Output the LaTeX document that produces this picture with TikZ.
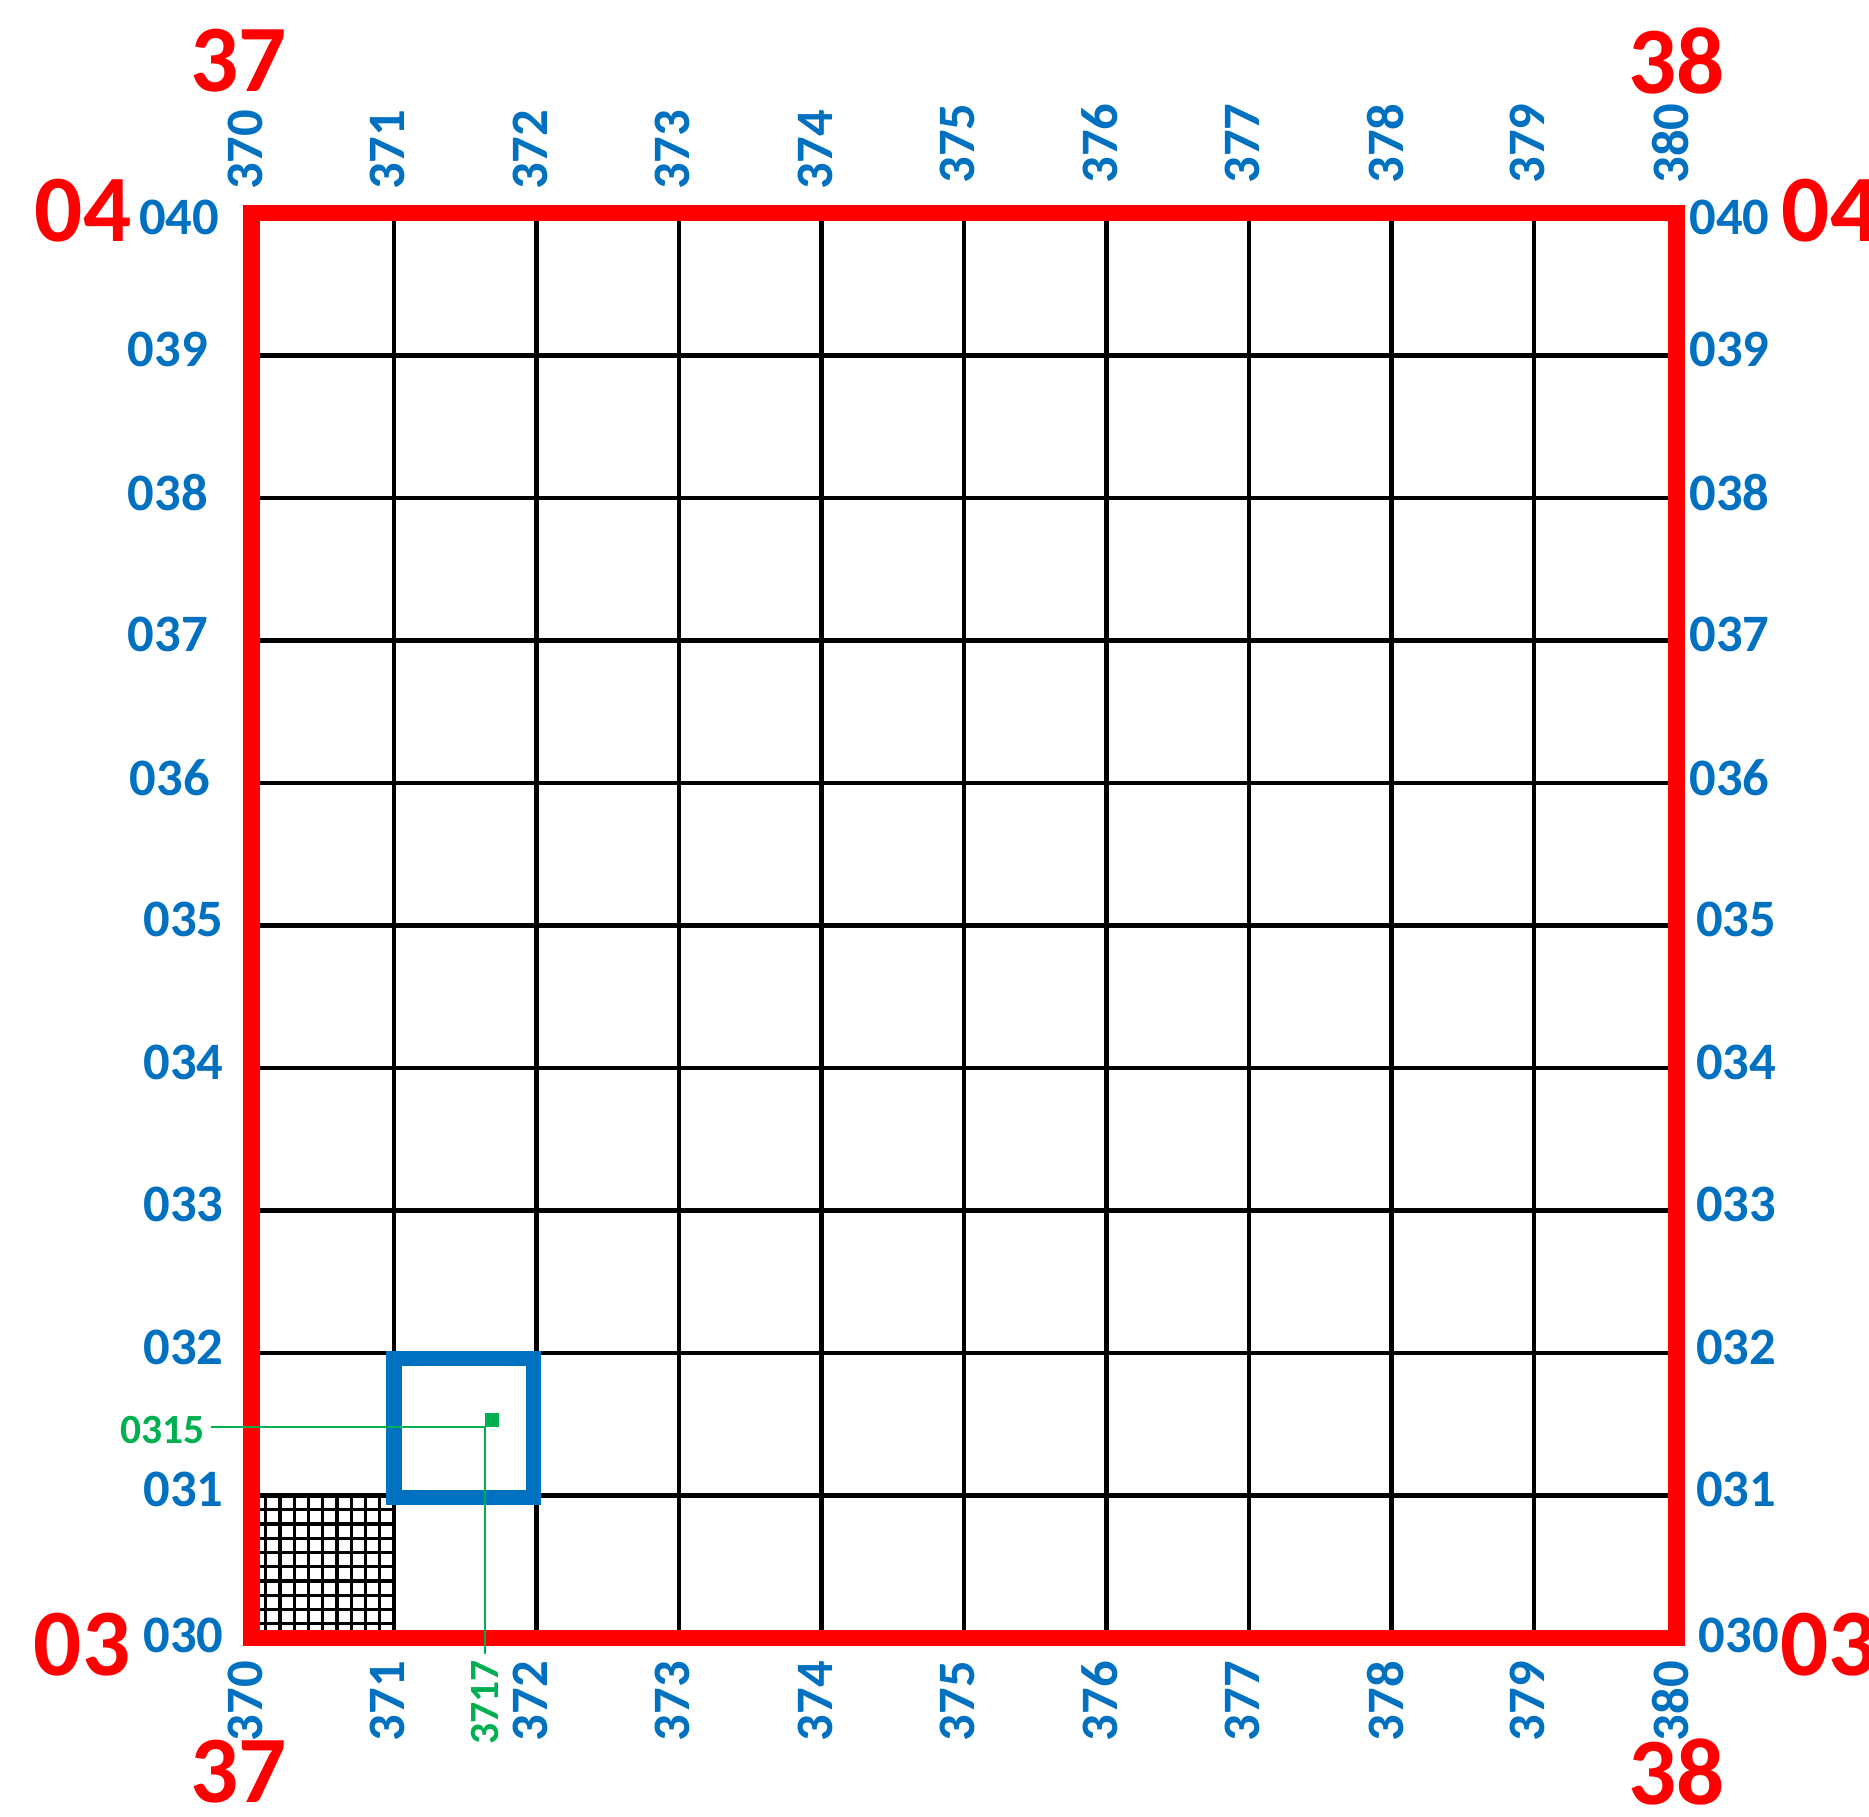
\documentclass[tikz,border=0pt]{standalone}
\usepackage{fontspec}
\setmainfont{Carlito}
\definecolor{sheetred}{HTML}{FF0000}
\definecolor{tickblue}{HTML}{0070C0}
\definecolor{pointgreen}{HTML}{00B050}

\tikzset{
  sheetlabel/.style={text=sheetred, font=\fontsize{19}{20}\selectfont\bfseries, inner sep=0pt},
  ticklabel/.style={text=tickblue, font=\fontsize{10.5}{12}\selectfont\bfseries, inner sep=0pt},
  pointlabel/.style={text=pointgreen, font=\fontsize{8.3}{10}\selectfont\bfseries, inner sep=1pt},
  gridline/.style={black, line width=0.9pt},
}

\begin{document}
\begin{tikzpicture}
  \useasboundingbox (-1.765,-1.249) rectangle (11.351,11.495);

  % Kilometre lines
  \foreach \k in {1,...,9} {
    \draw[gridline] (\k,0) -- (\k,10);
    \draw[gridline] (0,\k) -- (10,\k);
  }

  % Fine grid in the corner square
  \draw[black, line width=0.62pt, step=0.1] (0,0) grid (1,1);

  % Chosen square
  \draw[tickblue, line width=3.1pt] (1,0.985) rectangle (1.98,1.96);

  % Sheet frame
  \draw[sheetred, line width=3.2pt] (0,0) rectangle (10,10);

  % Easting labels (top and bottom)
  \foreach \i/\t/\dy in {0/370/10.155, 1/371/10.155, 2/372/10.155, 3/373/10.155, 4/374/10.155,
                         5/375/10.2, 6/376/10.2, 7/377/10.2, 8/378/10.2, 9/379/10.2, 10/380/10.2} {
    \node[ticklabel, rotate=90, anchor=west] (top\i) at (\i-0.045,\dy) {\t};
    \node[ticklabel, rotate=90, anchor=east] (bot\i) at (\i-0.045,-0.155) {\t};
  }

  % Northing labels (left and right)
  \foreach \j/\t/\lx/\rx/\dy in {0/030/-0.19/0.15/0.02, 1/031/-0.19/0.13/0.04, 2/032/-0.19/0.13/0.04,
                                 3/033/-0.19/0.13/0.04, 4/034/-0.19/0.13/0.04, 5/035/-0.19/0.13/0.04,
                                 6/036/-0.285/0.084/0.04, 7/037/-0.30/0.084/0.04, 8/038/-0.30/0.084/0.04,
                                 9/039/-0.30/0.084/0.04, 10/040/-0.22/0.084/-0.03} {
    \node[ticklabel, anchor=east] (left\j) at (\lx,\j+\dy) {\t};
    \node[ticklabel, anchor=west] (right\j) at (10+\rx,\j+\dy) {\t};
  }

  % Sheet numbers
  \node[sheetlabel] (e37top) at (-0.088,11.067) {37};
  \node[sheetlabel] (e38top) at (10,11.067) {38};
  \node[sheetlabel] (e37bot) at (-0.088,-0.94) {37};
  \node[sheetlabel] (e38bot) at (10,-0.94) {38};
  \node[sheetlabel] (n04left) at (-1.182,10.014) {04};
  \node[sheetlabel, anchor=west] (n04right) at (10.733,10.014) {04};
  \node[sheetlabel] (n03left) at (-1.189,-0.049) {03};
  \node[sheetlabel, anchor=west] (n03right) at (10.72,-0.049) {03};

  % Point 3717 / 0315
  \fill[pointgreen] (1.64,1.48) rectangle (1.74,1.58);
  \coordinate (pt) at (1.64,1.48);
  \node[pointlabel, anchor=east] (n0315) at (-0.284,1.46) {0315};
  \node[pointlabel, rotate=90, anchor=east] (e3717) at (1.64,-0.112) {3717};
  \draw[pointgreen, line width=0.45pt] (pt -| n0315.east) -- (pt) -- (pt |- e3717.east);
\end{tikzpicture}
\end{document}
